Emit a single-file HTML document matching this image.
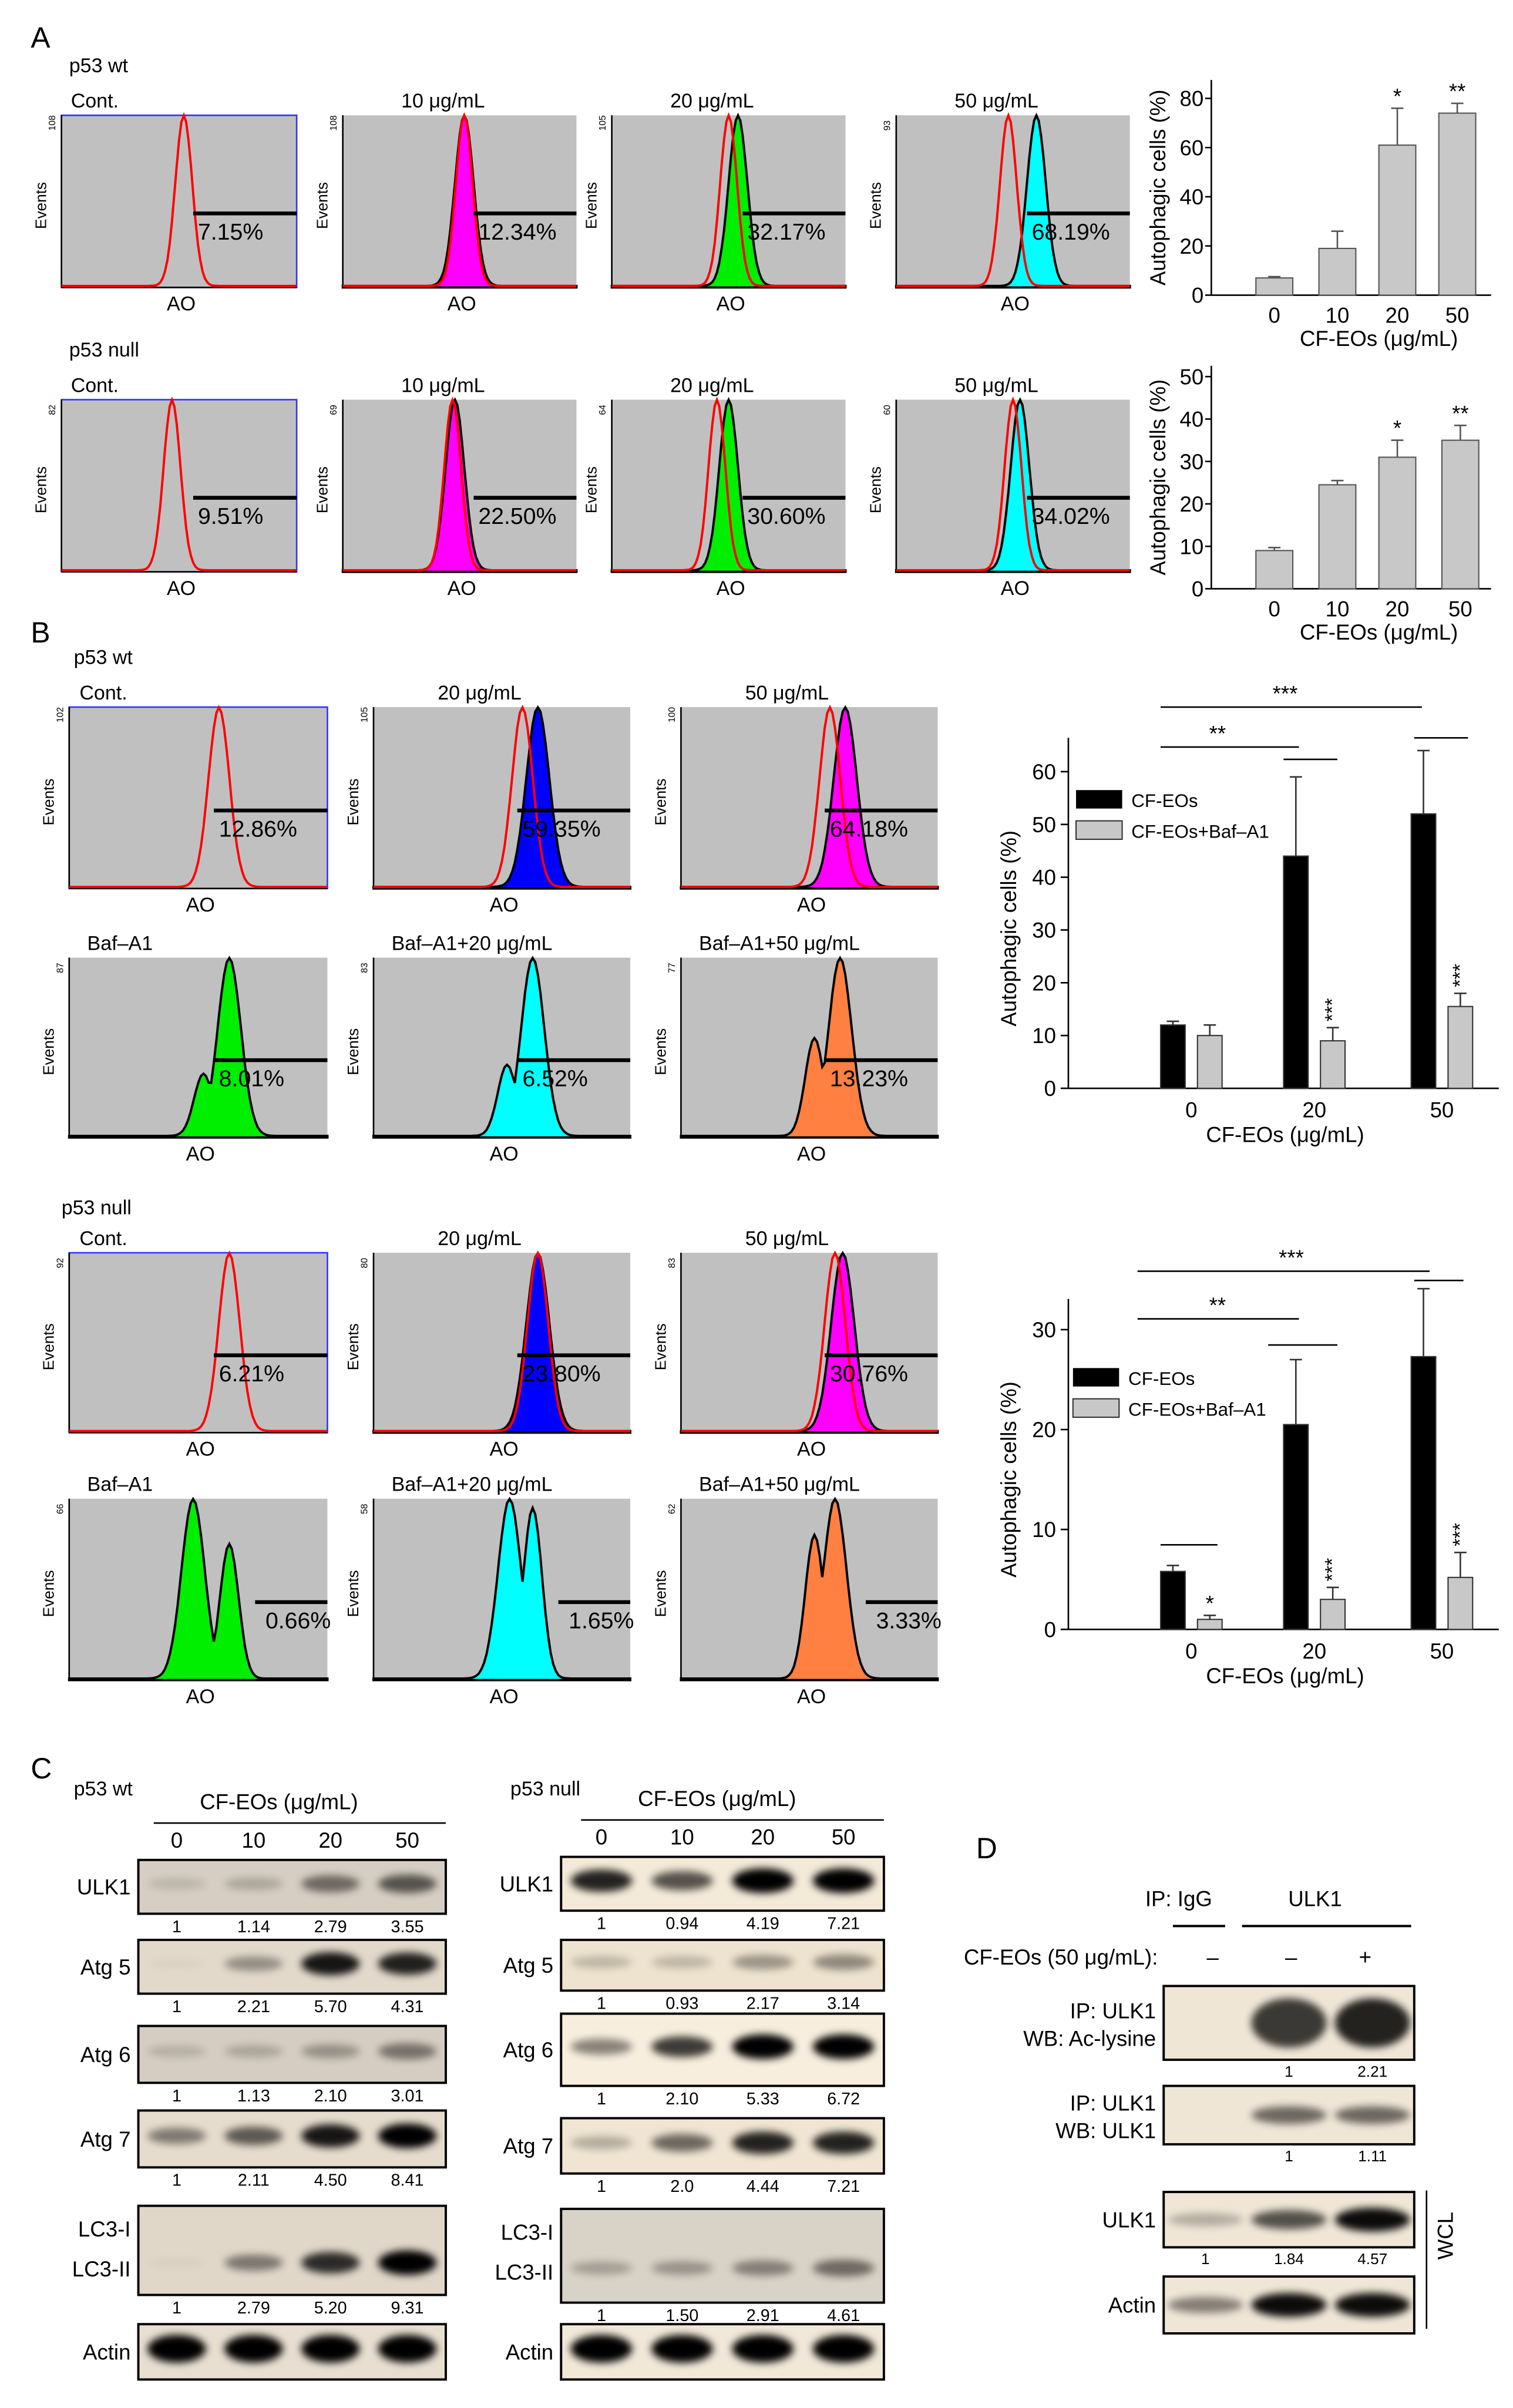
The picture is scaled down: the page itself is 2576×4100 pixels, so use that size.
<!DOCTYPE html>
<html><head><meta charset="utf-8"><style>
html,body{margin:0;padding:0;background:#fff}
svg{display:block}
text{font-family:"Liberation Sans",Arial,sans-serif;fill:#000}
</style></head><body>
<svg id="fig" xmlns="http://www.w3.org/2000/svg" width="2576" height="4100" viewBox="0 0 1000 1591.6">
<defs>
<filter id="blur" x="-50%" y="-100%" width="200%" height="300%"><feGaussianBlur stdDeviation="2.5"/></filter>
</defs>
<g id="root" transform="scale(1.016)">
<text x="20" y="31" font-size="19">A</text>
<text x="20" y="418" font-size="19">B</text>
<text x="20" y="1157" font-size="19">C</text>
<text x="635" y="1209" font-size="19">D</text>
</g>
</svg>
<script>
const NS='http://www.w3.org/2000/svg';
const root=document.getElementById('root');
function el(tag,attrs,parent,txt){const e=document.createElementNS(NS,tag);for(const k in attrs)e.setAttribute(k,attrs[k]);if(txt!==undefined)e.textContent=txt;(parent||root).appendChild(e);return e;}
function t(x,y,s,str,opt){return el('text',Object.assign({x:x,y:y,'font-size':s},opt||{}),root,str);}

// ---------- Histogram data ----------
const histTitles=['Cont.','10 μg/mL','20 μg/mL','50 μg/mL','Cont.','10 μg/mL','20 μg/mL','50 μg/mL',
 'Cont.','20 μg/mL','50 μg/mL','Baf–A1','Baf–A1+20 μg/mL','Baf–A1+50 μg/mL',
 'Cont.','20 μg/mL','50 μg/mL','Baf–A1','Baf–A1+20 μg/mL','Baf–A1+50 μg/mL'];
const histPct=['7.15%','12.34%','32.17%','68.19%','9.51%','22.50%','30.60%','34.02%',
 '12.86%','59.35%','64.18%','8.01%','6.52%','13.23%','6.21%','23.80%','30.76%','0.66%','1.65%','3.33%'];
const histColor=['none','#ff00ff','#00ee00','#00ffff','none','#ff00ff','#00ee00','#00ffff',
 'none','#0000ff','#ff00ff','#00ee00','#00ffff','#ff8040','none','#0000ff','#ff00ff','#00ee00','#00ffff','#ff8040'];
const histRedCenter=[0.52,0.52,0.5,0.48,0.47,0.47,0.45,0.5,0.58,0.58,0.58,0,0,0,0.62,0.64,0.6,0,0,0];
const histFillCenter=[0,0.52,0.54,0.6,0,0.48,0.5,0.53,0,0.64,0.64,0.62,0.62,0.62,0,0.64,0.63,0.48,0.53,0.6];
const histSecond=[0,0,0,0,0,0,0,0,0,0,0,0.52,0.52,0.52,0,0,0,0.62,0.62,0.52];
const histSecondAmp=[0,0,0,0,0,0,0,0,0,0,0,0.35,0.4,0.55,0,0,0,0.75,0.95,0.8];
const histBoxes=[[40,75,153,112],[223,75,152,112],[398,75,152,112],[583,75,152,112],
 [40,260,153,112],[223,260,152,112],[398,260,152,112],[583,260,152,112],
 [45,460,168,118],[243,460,167,118],[443,460,167,118],
 [45,623,168,117],[243,623,167,117],[443,623,167,117],
 [45,815,168,117],[243,815,167,117],[443,815,167,117],
 [45,975,168,118],[243,975,167,118],[443,975,167,118]];
const histTop=['108','108','105','93','82','69','64','60','102','105','100','87','83','77','92','80','83','66','58','62'];

function peakPath(x,y,w,h,c,s,c2,a2){
  let d='';
  for(let i=0;i<=100;i++){
    const fx=i/100;let v=Math.exp(-Math.pow((fx-c)/s,2)/2);
    if(c2)v=Math.max(v,a2*Math.exp(-Math.pow((fx-c2)/(s*0.8),2)/2));
    d+=(i?'L':'M')+(x+fx*w).toFixed(1)+','+(y+h-1-v*h*0.99).toFixed(1);
  }
  return d;
}
histBoxes.forEach((b,i)=>{
  const [x,y,w,h]=b;
  const g=el('g',{});
  
  
  const isCont=histTitles[i]==='Cont.';
  el('rect',{x:x,y:y,width:w,height:h,fill:'#c0c0c0',stroke:isCont?'#3333ff':'none','stroke-width':1},g);
  el('line',{x1:x,y1:y+h,x2:x+w,y2:y+h,stroke:'#000','stroke-width':1},g);
  el('line',{x1:x,y1:y,x2:x,y2:y+h,stroke:'#000','stroke-width':1},g);
  const sw=(i<8)?0.04:0.045;
  if(histColor[i]!=='none'){
    const d=peakPath(x,y,w,h,histFillCenter[i],sw,histSecond[i],histSecondAmp[i]);
    el('path',{d:d+'L'+(x+w)+','+(y+h)+'L'+x+','+(y+h)+'Z',fill:histColor[i],stroke:'#000','stroke-width':1.5},g);
  }
  if(histRedCenter[i]) el('path',{d:peakPath(x,y,w,h,histRedCenter[i],sw*0.9,0,0),fill:'none',stroke:'#ff0000','stroke-width':1.5},g);
  const my=y+h*0.57;
  el('line',{x1:x+w*(i>=17?0.72:0.56),y1:my,x2:x+w,y2:my,stroke:'#000','stroke-width':2.5},g);
  el('text',{x:x+w*(i>=17?0.76:0.58),y:my+17,'font-size':15},g,histPct[i]);
  const left=isCont||histTitles[i].indexOf('Baf')===0;
  el('text',{x:x+w*(isCont?0.04:(left?0.07:0.25)),y:y-5,'font-size':13},g,histTitles[i]);
  el('text',{x:x+w/2-8,y:y+h+15,'font-size':13},g,'AO');
  el('text',{transform:`translate(${x-10},${y+h/2+18}) rotate(-90)`,'font-size':10},g,'Events');
  el('text',{transform:`translate(${x-4},${y+10}) rotate(-90)`,'font-size':6},g,histTop[i]);
});
t(45,47,13,'p53 wt');t(45,232,13,'p53 null');t(48,432,13,'p53 wt');t(40,790,13,'p53 null');

// ---------- Bar charts panel A ----------
const aCats=['0','10','20','50'];
const a1Vals=[7,19,61,74], a1Err=[0.5,7,15,4], a1Sig=['','','*','**'];
const a2Vals=[9,24.5,31,35], a2Err=[0.7,1,4,3.5], a2Sig=['','','*','**'];
const a1Ticks=[0,20,40,60,80], a2Ticks=[0,10,20,30,40,50];
function barA(name,vals,err,sig,ticks,y0,ymaxPx,vmax,ytop,xs){
  const g=el('g',{});
  
  
  const AX=788;
  const Y=v=>y0-(v/vmax)*(y0-ymaxPx);
  el('line',{x1:AX,y1:ytop,x2:AX,y2:y0,stroke:'#000'},g);
  el('line',{x1:AX,y1:y0,x2:970,y2:y0,stroke:'#000'},g);
  ticks.forEach(v=>{el('line',{x1:AX-4,y1:Y(v),x2:AX,y2:Y(v),stroke:'#000'},g);el('text',{x:AX-5,y:Y(v)+5,'font-size':14,'text-anchor':'end'},g,v);});
  vals.forEach((v,i)=>{
    const cx=xs[i];
    const b=el('rect',{x:cx-12,y:Y(v),width:24,height:y0-Y(v),fill:'#c8c8c8',stroke:'#555','stroke-width':0.8},g);
    
    
    el('line',{x1:cx,y1:Y(v),x2:cx,y2:Y(v+err[i]),stroke:'#555'},g);
    el('line',{x1:cx-4,y1:Y(v+err[i]),x2:cx+4,y2:Y(v+err[i]),stroke:'#555'},g);
    if(sig[i])el('text',{x:cx,y:Y(v+err[i])-3,'font-size':14,'text-anchor':'middle'},g,sig[i]);
    el('text',{x:cx,y:y0+18,'font-size':14,'text-anchor':'middle'},g,aCats[i]);
  });
  el('text',{x:897,y:y0+33,'font-size':14,'text-anchor':'middle'},g,'CF-EOs (μg/mL)');
  el('text',{transform:`translate(758,${(ytop+y0)/2}) rotate(-90)`,'font-size':14,'text-anchor':'middle'},g,'Autophagic cells (%)');
}
barA('bar-chart-a-wt',a1Vals,a1Err,a1Sig,a1Ticks,192,64,80,52,[829,870,909,948]);
barA('bar-chart-a-null',a2Vals,a2Err,a2Sig,a2Ticks,383,245,50,238,[829,870,909,950]);

// ---------- Bar charts panel B ----------
const bCats=['0','20','50'];
const bwCF=[12,44,52], bwCFErr=[0.7,15,12], bwBaf=[10,9,15.5], bwBafErr=[2,2.5,2.5], bwSig=['','***','***'];
const bnCF=[5.8,20.5,27.3], bnCFErr=[0.6,6.5,6.8], bnBaf=[1,3,5.2], bnBafErr=[0.4,1.2,2.5], bnSig=['*','***','***'];
const bwTicks=[0,10,20,30,40,50,60], bnTicks=[0,10,20,30];
function barB(name,cf,cfe,baf,bafe,sig,ticks,y0,ytopV,vmax,axTop,leg,sigLines){
  const g=el('g',{});
  
  
  const Y=v=>y0-(v/vmax)*(y0-ytopV);
  const xs=[775,855,938];
  el('line',{x1:695,y1:axTop,x2:695,y2:y0,stroke:'#000'},g);
  el('line',{x1:695,y1:y0,x2:975,y2:y0,stroke:'#000'},g);
  ticks.forEach(v=>{el('line',{x1:690,y1:Y(v),x2:695,y2:Y(v),stroke:'#000'},g);el('text',{x:687,y:Y(v)+5,'font-size':14,'text-anchor':'end'},g,v);});
  xs.forEach((cx,i)=>{
    [[cf,cfe,-12,'#000'],[baf,bafe,12,'#c8c8c8']].forEach(([vv,ee,off,col],k)=>{
      const v=vv[i],bx=cx+off;
      const b=el('rect',{x:bx-8,y:Y(v),width:16,height:y0-Y(v),fill:col,stroke:'#333','stroke-width':0.8},g);
      
      
      el('line',{x1:bx,y1:Y(v),x2:bx,y2:Y(v+ee[i]),stroke:'#333'},g);
      el('line',{x1:bx-4,y1:Y(v+ee[i]),x2:bx+4,y2:Y(v+ee[i]),stroke:'#333'},g);
      if(k&&sig[i]){
        if(sig[i]==='*') el('text',{x:bx,y:Y(v+ee[i])-3,'font-size':14,'text-anchor':'middle'},g,'*');
        else el('text',{transform:`translate(${bx+4},${Y(v+ee[i])-4}) rotate(-90)`,'font-size':13},g,sig[i]);
      }
    });
    el('text',{x:cx,y:y0+19,'font-size':14,'text-anchor':'middle'},g,bCats[i]);
  });
  el('text',{x:836,y:y0+35,'font-size':14,'text-anchor':'middle'},g,'CF-EOs (μg/mL)');
  el('text',{transform:`translate(661,${(axTop+y0)/2+10}) rotate(-90)`,'font-size':14,'text-anchor':'middle'},g,'Autophagic cells (%)');
  el('rect',{x:leg[0],y:leg[1],width:30,height:12,fill:'#000'},g);
  el('text',{x:leg[0]+36,y:leg[1]+11,'font-size':12},g,'CF-EOs');
  el('rect',{x:leg[0],y:leg[1]+20,width:30,height:12,fill:'#c8c8c8',stroke:'#333','stroke-width':0.8},g);
  el('text',{x:leg[0]+36,y:leg[1]+31,'font-size':12},g,'CF-EOs+Baf–A1');
  sigLines.forEach(s=>{el('line',{x1:s[0],y1:s[2],x2:s[1],y2:s[2],stroke:'#000'},g);if(s[3])el('text',{x:s[4],y:s[2]-4,'font-size':14,'text-anchor':'middle'},g,s[3]);});
}
barB('bar-chart-b-wt',bwCF,bwCFErr,bwBaf,bwBafErr,bwSig,bwTicks,708,502,60,480,[700,514],
 [[755,845,486,'**',792],[835,870,494,'',0],[755,925,460,'***',836],[920,955,480,'',0]]);
barB('bar-chart-b-null',bnCF,bnCFErr,bnBaf,bnBafErr,bnSig,bnTicks,1060,865,30,845,[698,890],
 [[740,845,858,'**',792],[825,870,875,'',0],[740,930,827,'***',840],[920,952,833,'',0],[755,792,1005,'',0]]);

// ---------- Western blots ----------
const laneLabels=['0','10','20','50'];
const wtRows=['ULK1','Atg 5','Atg 6','Atg 7','LC3','Actin'];
const wtQuant=[['1','1.14','2.79','3.55'],['1','2.21','5.70','4.31'],['1','1.13','2.10','3.01'],['1','2.11','4.50','8.41'],['1','2.79','5.20','9.31']];
const wtInt=[[0.12,0.2,0.5,0.6],[0.03,0.35,0.9,0.85],[0.15,0.2,0.3,0.45],[0.45,0.6,0.9,1],[0.03,0.45,0.8,1],[1,1,1,1]];
const nuQuant=[['1','0.94','4.19','7.21'],['1','0.93','2.17','3.14'],['1','2.10','5.33','6.72'],['1','2.0','4.44','7.21'],['1','1.50','2.91','4.61']];
const nuInt=[[0.85,0.65,1,1],[0.2,0.2,0.35,0.4],[0.45,0.75,1,1],[0.25,0.55,0.85,0.85],[0.25,0.3,0.4,0.5],[1,1,1,1]];
const rowY=[[1210,1245],[1262,1297],[1318,1355],[1373,1410],[1435,1493],[1512,1548]];
const rowYn=[[1208,1243],[1262,1295],[1310,1357],[1378,1414],[1437,1498],[1512,1548]];
function blot(name,x0,x1,rows,labels,quant,ints,bg){
  const g=el('g',{});
  
  
  const lw=(x1-x0)/4;
  rows.forEach((r,ri)=>{
    el('rect',{x:x0,y:r[0],width:x1-x0,height:r[1]-r[0],fill:bg[ri],stroke:'#000','stroke-width':1.5},g);
    for(let j=0;j<4;j++){
      const cx=x0+lw*(j+0.5),cy=(r[0]+r[1])/2+(labels[ri]==='LC3'?8:-2);
      const a=ints[ri][j];
      const ry=labels[ri]==='Actin'?9:(3+a*5);
      el('ellipse',{cx:cx,cy:cy,rx:lw*0.38,ry:ry,fill:'#000',opacity:a,filter:'url(#blur)'},g);
      if(quant[ri]) el('text',{x:cx,y:r[1]+12,'font-size':11,'text-anchor':'middle'},g,quant[ri][j]);
    }
    if(labels[ri]==='LC3'){
      el('text',{x:x0-5,y:r[0]+20,'font-size':14,'text-anchor':'end'},g,'LC3-I');
      el('text',{x:x0-5,y:r[0]+46,'font-size':14,'text-anchor':'end'},g,'LC3-II');
    } else el('text',{x:x0-5,y:(r[0]+r[1])/2+5,'font-size':14,'text-anchor':'end'},g,labels[ri]);
  });
  for(let j=0;j<4;j++)el('text',{x:x0+lw*(j+0.5),y:rows[0][0]-8,'font-size':14,'text-anchor':'middle'},g,laneLabels[j]);
}
const bgWt=['#d6cec2','#e2d9cb','#d5cdc1','#e6dccd','#e0d7c9','#e8dfd1'];
const bgNu=['#f3ead8','#eee3cf','#f7eedd','#efe5d2','#d9d2c6','#f1e8d8'];
blot('western-blot-wt',90,290,rowY,wtRows,wtQuant,wtInt,bgWt);
blot('western-blot-null',365,575,rowYn,wtRows,nuQuant,nuInt,bgNu);
t(48,1168,13,'p53 wt');t(130,1177,14,'CF-EOs (μg/mL)');
el('line',{x1:100,y1:1186,x2:290,y2:1186,stroke:'#000'});
t(332,1168,13,'p53 null');t(415,1175,14,'CF-EOs (μg/mL)');
el('line',{x1:378,y1:1184,x2:575,y2:1184,stroke:'#000'});

// ---------- Panel D ----------
const dQuant=[['','1','2.21'],['','1','1.11'],['1','1.84','4.57']];
const dInt=[[0,0.75,0.85],[0,0.55,0.55],[0.25,0.65,0.95],[0.45,0.95,0.95]];
const dRows=[[1292,1340],[1357,1395],[1426,1462],[1481,1518]];
const dLabels=[['IP: ULK1','WB: Ac-lysine'],['IP: ULK1','WB: ULK1'],['ULK1'],['Actin']];
(function(){
  const g=el('g',{});
  
  
  const x0=757,x1=920,lw=(x1-x0)/3;
  dRows.forEach((r,ri)=>{
    el('rect',{x:x0,y:r[0],width:x1-x0,height:r[1]-r[0],fill:'#efe6d6',stroke:'#000','stroke-width':1.5},g);
    for(let j=0;j<3;j++){
      const a=dInt[ri][j];if(!a)continue;
      el('ellipse',{cx:x0+lw*(j+0.5),cy:(r[0]+r[1])/2,rx:lw*0.45,ry:ri===0?16:(3+a*5),fill:'#000',opacity:a,filter:'url(#blur)'},g);
    }
    if(dQuant[ri])for(let j=0;j<3;j++)el('text',{x:x0+lw*(j+0.5),y:r[1]+11,'font-size':10,'text-anchor':'middle'},g,dQuant[ri][j]);
    const L=dLabels[ri];
    L.forEach((s,k)=>el('text',{x:x0-5,y:(r[0]+r[1])/2+5+(L.length>1?(k?10:-8):0),'font-size':14,'text-anchor':'end'},g,s));
  });
  el('text',{x:745,y:1240,'font-size':14},g,'IP: IgG');
  el('text',{x:838,y:1240,'font-size':14},g,'ULK1');
  el('line',{x1:763,y1:1253,x2:797,y2:1253,stroke:'#000','stroke-width':1.5},g);
  el('line',{x1:808,y1:1253,x2:918,y2:1253,stroke:'#000','stroke-width':1.5},g);
  el('text',{x:627,y:1278,'font-size':14},g,'CF-EOs (50 μg/mL):');
  el('text',{x:785,y:1278,'font-size':14},g,'–');
  el('text',{x:836,y:1278,'font-size':14},g,'–');
  el('text',{x:884,y:1278,'font-size':14},g,'+');
  el('line',{x1:928,y1:1425,x2:928,y2:1515,stroke:'#000'},g);
  el('text',{transform:'translate(945,1470) rotate(-90)','font-size':14},g,'WCL');
})();
</script>
</body></html>
